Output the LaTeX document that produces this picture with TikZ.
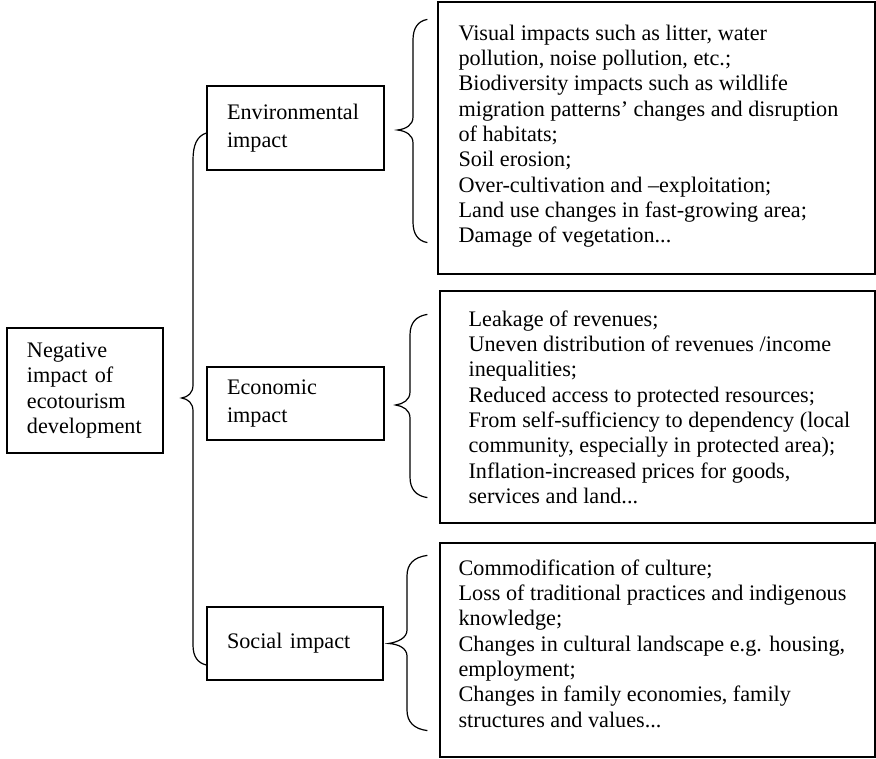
\documentclass[tikz,border=0pt]{standalone}
\usepackage{fontspec}
\setmainfont{Liberation Serif}
\usetikzlibrary{positioning}

\begin{document}
\begin{tikzpicture}
[x=1pt,y=-1pt,%
  boxNode/.style={draw,line width=1.2pt,inner sep=0pt},%
  headNode/.style={boxNode,align=left,text width=#1,inner xsep=20pt},%
  listText/.style={anchor=north west,align=left,inner sep=0pt,%
    font=\fontsize{22.2}{25.35}\selectfont},%
  braceDecorate/.style={line width=1.2pt}]
\useasboundingbox (0,0) rectangle (876,759);
%% the heading boxes
\node[headNode=116pt,minimum height=125pt,font=\fontsize{22.2}{25.6}\selectfont]
  (root) at (85,390.5) {Negative\\impact of\\ecotourism\\development};
\node[headNode=137pt,minimum height=84pt,font=\fontsize{22.2}{28.5}\selectfont]
  (envbox) at (295.5,128) {Environmental\\impact};
\node[headNode=137pt,minimum height=73pt,font=\fontsize{22.2}{28}\selectfont]
  (econbox) at (295.5,403.5) {Economic\\impact};
\node[headNode=136pt,minimum height=73pt,font=\fontsize{22.2}{28}\selectfont]
  (socbox) at (295,643.5) {Social impact};
%% the list boxes
\node[boxNode,minimum width=437pt,minimum height=272pt] (envlist) at (656.5,138) {};
\node[boxNode,minimum width=435pt,minimum height=232pt] (econlist) at (657.5,407) {};
\node[boxNode,minimum width=435pt,minimum height=214pt] (soclist) at (657.5,650) {};
\node[listText] (envtext) at ([xshift=21pt,yshift=-23pt]envlist.north west)
  {Visual impacts such as litter, water\\
   pollution, noise pollution, etc.;\\
   Biodiversity impacts such as wildlife\\
   migration patterns’ changes and disruption\\
   of habitats;\\
   Soil erosion;\\
   Over-cultivation and –exploitation;\\
   Land use changes in fast-growing area;\\
   Damage of vegetation...};
\node[listText] (econtext) at ([xshift=29pt,yshift=-20pt]econlist.north west)
  {Leakage of revenues;\\
   Uneven distribution of revenues /income\\
   inequalities;\\
   Reduced access to protected resources;\\
   From self-sufficiency to dependency (local\\
   community, especially in protected area);\\
   Inflation-increased prices for goods,\\
   services and land...};
\node[listText] (soctext) at ([xshift=19pt,yshift=-17pt]soclist.north west)
  {Commodification of culture;\\
   Loss of traditional practices and indigenous\\
   knowledge;\\
   Changes in cultural landscape e.g. housing,\\
   employment;\\
   Changes in family economies, family\\
   structures and values...};
%% end points and tips of the braces
\coordinate (bigtop) at ([yshift=-5pt]envbox.west);
\coordinate (bigtip) at ([xshift=18pt,yshift=-7.5pt]root.east);
\coordinate (bigbot) at ([yshift=-21.5pt]socbox.west);
\coordinate (envtop) at ([xshift=-10pt,yshift=-18pt]envlist.north west);
\coordinate (envtip) at ([xshift=13pt,yshift=-2pt]envbox.east);
\coordinate (envbot) at ([xshift=-10pt,yshift=32pt]envlist.south west);
\coordinate (econtop) at ([xshift=-12pt,yshift=-24pt]econlist.north west);
\coordinate (econtip) at ([xshift=11pt,yshift=-1.5pt]econbox.east);
\coordinate (econbot) at ([xshift=-12pt,yshift=26pt]econlist.south west);
\coordinate (soctop) at ([xshift=-12pt,yshift=-13pt]soclist.north west);
\coordinate (soctip) at ([xshift=5pt]socbox.east);
\coordinate (socbot) at ([xshift=-12pt,yshift=27pt]soclist.south west);
%% the braces
\draw[braceDecorate] (bigtop) .. controls (197,136) and (193,145) .. (193,160) --
(193,385) .. controls (193,393) and (188,397) .. (bigtip) .. controls (188,399)
and (193,403) .. (193,411) -- (193,645) .. controls (193,657) and (198,663) ..
(bigbot);
\draw[braceDecorate] (envtop) .. controls (418,21) and (413,28) .. (413,40) --
(413,117) .. controls (413,125) and (406,129) .. (envtip) .. controls (406,131)
and (413,135) .. (413,143) -- (413,222) .. controls (413,234) and (418,241) ..
(envbot);
\draw[braceDecorate] (econtop) .. controls (416,316) and (410,323) .. (410,335) --
(410,392) .. controls (410,400) and (403,404) .. (econtip) .. controls (403,406)
and (410,410) .. (410,418) -- (410,477) .. controls (410,489) and (416,496) ..
(econbot);
\draw[braceDecorate] (soctop) .. controls (414,557) and (407,564) .. (407,576) --
(407,630) .. controls (407,638) and (398,642) .. (soctip) .. controls (398,644)
and (407,648) .. (407,656) -- (407,710) .. controls (407,722) and (414,729) ..
(socbot);
\end{tikzpicture}
\end{document}
